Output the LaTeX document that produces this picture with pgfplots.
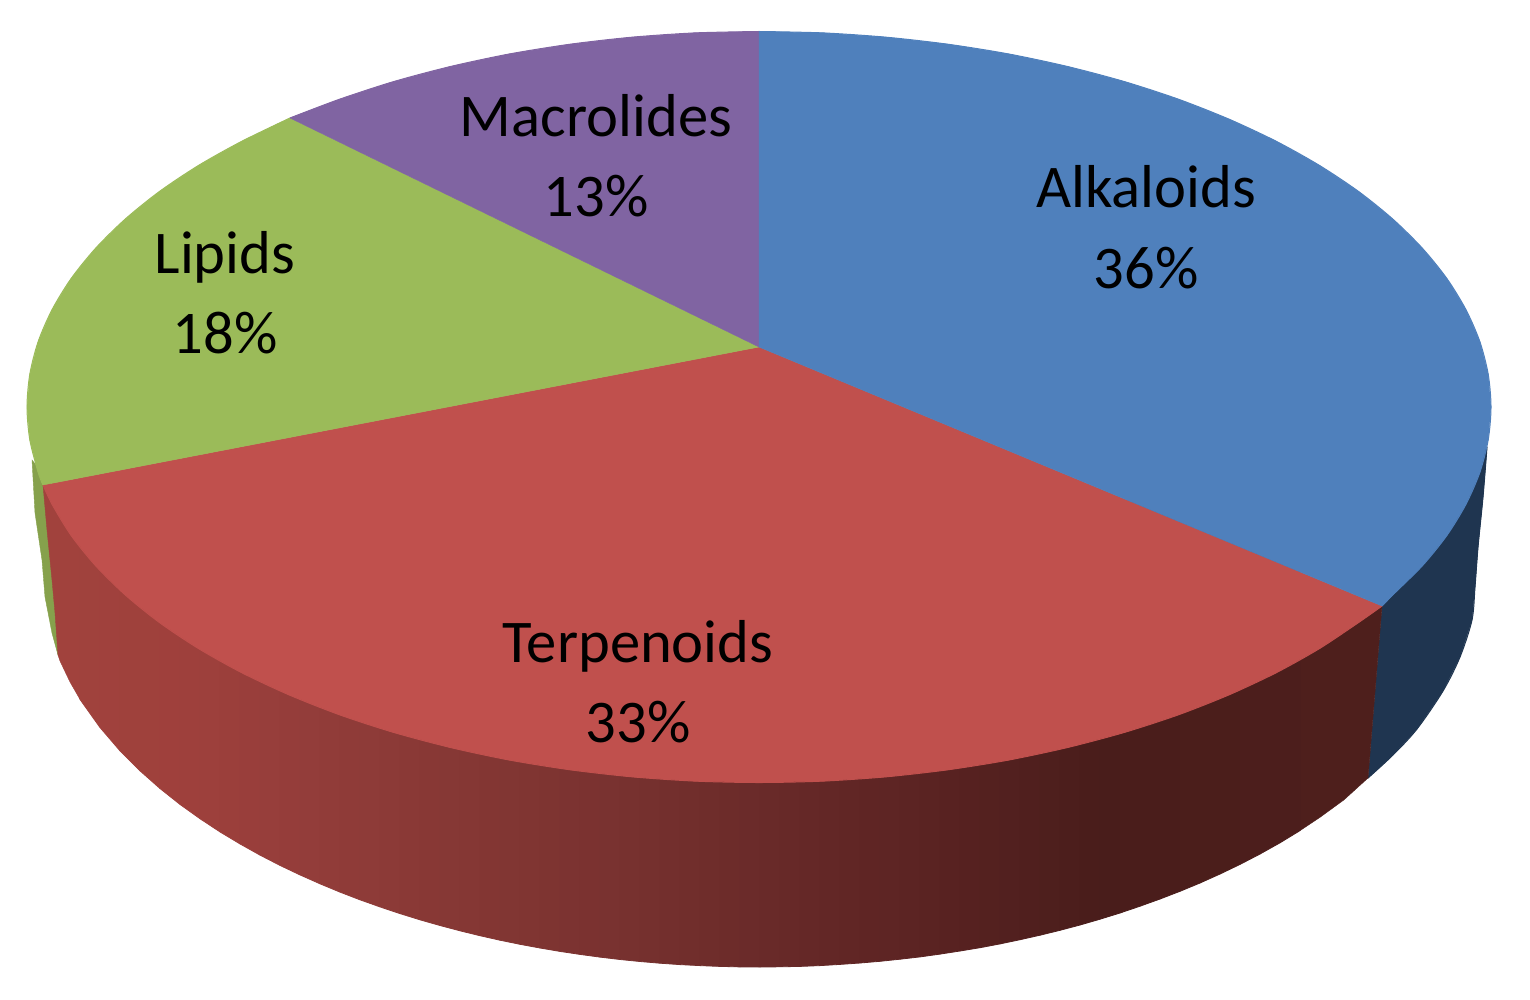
\documentclass[border=0pt]{standalone}
\usepackage{pgfplots}
\pgfplotsset{compat=1.18}
\usepackage{fontspec}
\setmainfont{Carlito}
\definecolor{cblue}{RGB}{79,128,188}
\definecolor{cred}{RGB}{192,80,77}
\definecolor{cgreen}{RGB}{155,187,89}
\definecolor{cpurple}{RGB}{128,100,162}
\definecolor{sblue}{RGB}{31,53,80}
\definecolor{sgreen}{RGB}{134,161,76}
\definecolor{sredl}{RGB}{161,66,61}
\definecolor{sredr}{RGB}{78,31,28}
\begin{document}
\begin{tikzpicture}
\begin{axis}[
  scale only axis, width=765pt, height=500pt,
  xmin=0, xmax=1530, ymin=0, ymax=1000, y dir=reverse,
  hide axis, clip=false,
  point meta min=60, point meta max=1380,
  colormap={redside}{rgb255(60pt)=(161,66,61) rgb255(200pt)=(158,64,60) rgb255(300pt)=(148,61,58) rgb255(500pt)=(130,54,51) rgb255(600pt)=(122,50,48) rgb255(765pt)=(105,42,41) rgb255(950pt)=(88,34,33) rgb255(1100pt)=(73,29,27) rgb255(1380pt)=(78,31,28)},
]
\path (axis cs:0,0) rectangle (axis cs:1530,1000);
% side of the green slice
\addplot[fill=sgreen, draw=sgreen, line width=0.2pt] coordinates {(32,460) (35,513) (42,560) (45,597) (52,633) (58,655) (62,600) (52,485)} --cycle;
% side of the blue slice
\addplot[fill=sblue, draw=sblue, line width=0.2pt] coordinates {(1382,606) (1368,778) (1393,755) (1417,729) (1443,691) (1460,657) (1472,620) (1475,587) (1478,547) (1483,497) (1487,447) (1440,500)} --cycle;
\addplot[smooth, no marks, draw=sblue, line width=0.5pt] coordinates {(1368,778) (1393,755) (1417,729) (1443,691) (1460,657) (1472,620) (1475,587) (1478,547) (1483,497) (1487,447)};
% side of the red slice: ends and strips
\addplot[fill=sredl, draw=sredl, line width=0.2pt] coordinates {(43,485) (47,530) (52,580) (55,613) (58,655) (60,661) (70,682) (80,699.4) (80,500)} --cycle;
\addplot[fill=sredr, draw=sredr, line width=0.2pt] coordinates {(1300,600) (1382,606) (1368,778) (1344,799.8) (1320,817.3) (1300,830.6)} --cycle;
\addplot[patch, patch type=rectangle, shader=flat, point meta=x] table {
x y
80 500
100 500
100 727.5
80 699.4
100 500
120 500
120 750.8
100 727.5
120 500
140 500
140 770.8
120 750.8
140 500
160 500
160 788.5
140 770.8
160 500
180 500
180 804.4
160 788.5
180 500
200 500
200 818.7
180 804.4
200 500
220 500
220 831.9
200 818.7
220 500
240 500
240 843.9
220 831.9
240 500
260 500
260 855.1
240 843.9
260 500
280 500
280 865.4
260 855.1
280 500
300 500
300 874.9
280 865.4
300 500
320 500
320 883.8
300 874.9
320 500
340 500
340 892.1
320 883.8
340 500
360 500
360 899.8
340 892.1
360 500
380 500
380 906.9
360 899.8
380 500
400 500
400 913.6
380 906.9
400 500
420 500
420 919.8
400 913.6
420 500
440 500
440 925.5
420 919.8
440 500
460 500
460 930.8
440 925.5
460 500
480 500
480 935.7
460 930.8
480 500
500 500
500 940.2
480 935.7
500 500
520 500
520 944.3
500 940.2
520 500
540 500
540 948
520 944.3
540 500
560 500
560 951.4
540 948
560 500
580 500
580 954.4
560 951.4
580 500
600 500
600 957.1
580 954.4
600 500
620 500
620 959.5
600 957.1
620 500
640 500
640 961.5
620 959.5
640 500
660 500
660 963.2
640 961.5
660 500
680 500
680 964.6
660 963.2
680 500
700 500
700 965.6
680 964.6
700 500
720 500
720 966.4
700 965.6
720 500
740 500
740 966.9
720 966.4
740 500
760 500
760 967
740 966.9
760 500
780 500
780 966.8
760 967
780 500
800 500
800 966.4
780 966.8
800 500
820 500
820 965.6
800 966.4
820 500
840 500
840 964.4
820 965.6
840 500
860 500
860 963
840 964.4
860 500
880 500
880 961.3
860 963
880 500
900 500
900 959.2
880 961.3
900 500
920 500
920 956.9
900 959.2
920 500
940 500
940 954.1
920 956.9
940 500
960 500
960 951
940 954.1
960 500
980 500
980 947.7
960 951
980 500
1000 500
1000 943.9
980 947.7
1000 500
1020 500
1020 939.7
1000 943.9
1020 500
1040 500
1040 935.2
1020 939.7
1040 500
1060 500
1060 930.3
1040 935.2
1060 500
1080 500
1080 925
1060 930.3
1080 500
1100 500
1100 919.2
1080 925
1100 500
1120 500
1120 913
1100 919.2
1120 500
1140 500
1140 906.2
1120 913
1140 500
1160 500
1160 899
1140 906.2
1160 500
1180 500
1180 891.3
1160 899
1180 500
1200 500
1200 883
1180 891.3
1200 500
1220 500
1220 874
1200 883
1220 500
1240 500
1240 864.4
1220 874
1240 500
1260 500
1260 854
1240 864.4
1260 500
1280 500
1280 842.8
1260 854
1280 500
1300 500
1300 830.6
1280 842.8
};
% top faces
\addplot[fill=cred, draw=cred, line width=0.2pt] coordinates {(759,347) (1382,606) (1358.7,622.4) (1319.7,648.4) (1276.6,672.5) (1229.5,694.6) (1178.9,714.6) (1125,732.2) (1068.3,747.3) (1009.3,759.9) (948.4,769.7) (886.1,776.8) (822.8,781.1) (759,782.5) (695.2,781.1) (631.9,776.8) (569.6,769.7) (508.7,759.9) (449.7,747.3) (393,732.2) (339.1,714.6) (288.5,694.6) (241.4,672.5) (198.3,648.4) (159.3,622.4) (125.1,594.8) (95.6,565.7) (71.1,535.4) (52,504.2) (43,485)} --cycle;
\addplot[smooth, no marks, draw=cred, line width=0.5pt] coordinates {(1382,606) (1358.7,622.4) (1319.7,648.4) (1276.6,672.5) (1229.5,694.6) (1178.9,714.6) (1125,732.2) (1068.3,747.3) (1009.3,759.9) (948.4,769.7) (886.1,776.8) (822.8,781.1) (759,782.5) (695.2,781.1) (631.9,776.8) (569.6,769.7) (508.7,759.9) (449.7,747.3) (393,732.2) (339.1,714.6) (288.5,694.6) (241.4,672.5) (198.3,648.4) (159.3,622.4) (125.1,594.8) (95.6,565.7) (71.1,535.4) (52,504.2) (43,485)};
\addplot[fill=cgreen, draw=cgreen, line width=0.2pt] coordinates {(759,347) (43,485) (38.1,472.2) (29.8,439.7) (27,407) (29.8,374.3) (38.1,341.8) (52,309.8) (71.1,278.6) (95.6,248.3) (125.1,219.2) (159.3,191.6) (198.3,165.6) (241.4,141.5) (290,118)} --cycle;
\addplot[smooth, no marks, draw=cgreen, line width=0.5pt] coordinates {(43,485) (38.1,472.2) (29.8,439.7) (27,407) (29.8,374.3) (38.1,341.8) (52,309.8) (71.1,278.6) (95.6,248.3) (125.1,219.2) (159.3,191.6) (198.3,165.6) (241.4,141.5) (290,118)};
\addplot[fill=cpurple, draw=cpurple, line width=0.2pt] coordinates {(759,347) (290,118) (339.1,99.4) (393,81.8) (449.7,66.7) (508.7,54.1) (569.6,44.3) (631.9,37.2) (695.2,32.9) (759,31.5)} --cycle;
\addplot[smooth, no marks, draw=cpurple, line width=0.5pt] coordinates {(290,118) (339.1,99.4) (393,81.8) (449.7,66.7) (508.7,54.1) (569.6,44.3) (631.9,37.2) (695.2,32.9) (759,31.5)};
\addplot[fill=cblue, draw=cblue, line width=0.2pt] coordinates {(759,347) (759,31.5) (822.8,32.9) (886.1,37.2) (948.4,44.3) (1009.3,54.1) (1068.3,66.7) (1125,81.8) (1178.9,99.4) (1229.5,119.4) (1276.6,141.5) (1319.7,165.6) (1358.7,191.6) (1392.9,219.2) (1422.4,248.3) (1446.9,278.6) (1466,309.8) (1479.9,341.8) (1488.2,374.3) (1491,407) (1488.2,439.7) (1479.9,472.2) (1466,504.2) (1446.9,535.4) (1422.4,565.7) (1392.9,594.8) (1382,606)} --cycle;
\addplot[smooth, no marks, draw=cblue, line width=0.5pt] coordinates {(759,31.5) (822.8,32.9) (886.1,37.2) (948.4,44.3) (1009.3,54.1) (1068.3,66.7) (1125,81.8) (1178.9,99.4) (1229.5,119.4) (1276.6,141.5) (1319.7,165.6) (1358.7,191.6) (1392.9,219.2) (1422.4,248.3) (1446.9,278.6) (1466,309.8) (1479.9,341.8) (1488.2,374.3) (1491,407) (1488.2,439.7) (1479.9,472.2) (1466,504.2) (1446.9,535.4) (1422.4,565.7) (1392.9,594.8) (1382,606)};
% labels
\tikzset{lab/.style={anchor=base, inner sep=0pt, font=\fontsize{30.3pt}{36pt}\selectfont, text=black}}
\node[lab] at (axis cs:1146,208) {Alkaloids};
\node[lab] at (axis cs:1146,288) {36\%};
\node[lab] at (axis cs:638,662) {Terpenoids};
\node[lab] at (axis cs:638,742) {33\%};
\node[lab] at (axis cs:225,273) {Lipids};
\node[lab] at (axis cs:225,353) {18\%};
\node[lab] at (axis cs:596,137) {Macrolides};
\node[lab] at (axis cs:596,217) {13\%};
\end{axis}
\end{tikzpicture}
\end{document}
